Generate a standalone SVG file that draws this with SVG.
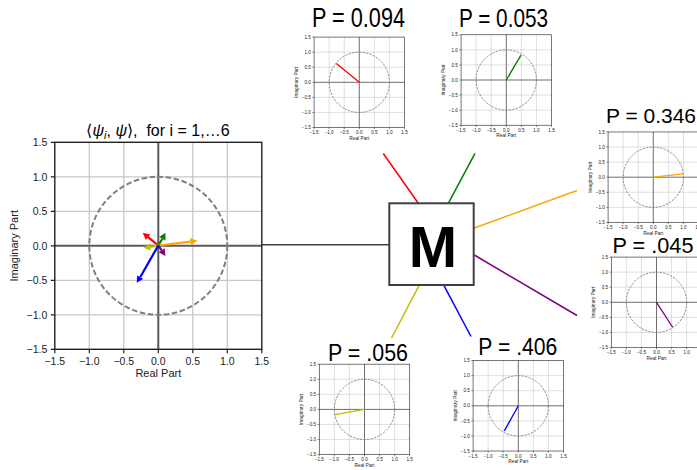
<svg xmlns="http://www.w3.org/2000/svg" xmlns:xlink="http://www.w3.org/1999/xlink" width="697" height="470" viewBox="0 0 697 470">
<style>
.tick{font-family:"Liberation Sans",Arial,sans-serif;font-size:10.5px;fill:#222}
.lab{font-family:"Liberation Sans",Arial,sans-serif;font-size:11px;fill:#222}
.grid{stroke:#c8c8c8;stroke-width:1.3}
.zero{stroke:#5a5a5a;stroke-width:2}
.frame{fill:none;stroke:#222;stroke-width:1.4}
.tk{stroke:#222;stroke-width:1.2}
.circ{fill:none;stroke:#808080;stroke-width:2;stroke-dasharray:5.5 2.6}
.ptitle{font-family:"Liberation Sans",Arial,sans-serif;fill:#000}
.conn{fill:none;stroke-width:1.5}
.vec{stroke-width:3;fill:none}
</style>
<defs>
<g id="axes">
<rect x="-103.5" y="-103.5" width="207" height="207" fill="#fff"/>
<path class="grid" d="M-69,-103.5V103.5M-34.5,-103.5V103.5M34.5,-103.5V103.5M69,-103.5V103.5M-103.5,-69H103.5M-103.5,-34.5H103.5M-103.5,34.5H103.5M-103.5,69H103.5"/>
<path class="zero" d="M0,-103.5V103.5M-103.5,0H103.5"/>
<circle class="circ" cx="0" cy="0" r="69"/>
<rect class="frame" x="-103.5" y="-103.5" width="207" height="207"/>
<path class="tk" d="M-103.5,-103.5h-4M-103.5,-69h-4M-103.5,-34.5h-4M-103.5,0h-4M-103.5,34.5h-4M-103.5,69h-4M-103.5,103.5h-4M-103.5,103.5v4M-69,103.5v4M-34.5,103.5v4M0,103.5v4M34.5,103.5v4M69,103.5v4M103.5,103.5v4"/>
<g class="tick" text-anchor="end">
<text x="-111" y="-99.7">1.5</text>
<text x="-111" y="-65.2">1.0</text>
<text x="-111" y="-30.7">0.5</text>
<text x="-111" y="3.8">0.0</text>
<text x="-111" y="38.3">−0.5</text>
<text x="-111" y="72.8">−1.0</text>
<text x="-111" y="107.3">−1.5</text>
</g>
<g class="tick" text-anchor="middle">
<text x="-103.5" y="118.8">−1.5</text>
<text x="-69" y="118.8">−1.0</text>
<text x="-34.5" y="118.8">−0.5</text>
<text x="0" y="118.8">0.0</text>
<text x="34.5" y="118.8">0.5</text>
<text x="69" y="118.8">1.0</text>
<text x="103.5" y="118.8">1.5</text>
</g>
<text class="lab" x="0" y="131.3" text-anchor="middle">Real Part</text>
<text class="lab" transform="translate(-140.3,0) rotate(-90)" x="0" y="0" text-anchor="middle">Imaginary Part</text>
</g>
</defs>
<rect width="697" height="470" fill="#fff"/>

<g id="connectors">
<line class="conn" stroke="#404040" x1="262" y1="244.7" x2="389" y2="244.7"/>
<line class="conn" stroke="#ff0000" x1="418.3" y1="203.3" x2="383.3" y2="153.5"/>
<line class="conn" stroke="#008000" x1="448.3" y1="203.3" x2="475" y2="153.3"/>
<line class="conn" stroke="#ffa500" x1="473.7" y1="228.3" x2="577" y2="190.5"/>
<line class="conn" stroke="#800080" x1="474.3" y1="255" x2="577" y2="315.5"/>
<line class="conn" stroke="#bfbf00" x1="419" y1="285.7" x2="391.5" y2="338"/>
<line class="conn" stroke="#0000ff" x1="444" y1="285.7" x2="471" y2="336.5"/>
</g>

<g id="main-plot">
<use xlink:href="#axes" href="#axes" transform="translate(158.3,245.8)"/>
<text class="ptitle" x="158" y="136" font-size="16" text-anchor="middle">⟨<tspan font-style="italic">ψ</tspan><tspan font-size="11" font-style="italic" dy="3">i</tspan><tspan dy="-3">, </tspan><tspan font-style="italic">ψ</tspan>⟩,&#160; for i = 1,…6</text>
<g id="arrows">
<g stroke="#ff0000" fill="#ff0000"><line x1="158.3" y1="245.5" x2="148.1" y2="237.2" stroke-width="2.2"/><polygon points="142.7,232.7 150.3,234.5 145.9,239.9" stroke="none"/></g>
<g stroke="#008000" fill="#008000"><line x1="158.3" y1="245.5" x2="162.3" y2="238.8" stroke-width="2.2"/><polygon points="165.5,232.7 165.4,240.5 159.2,237.1" stroke="none"/></g>
<g stroke="#ffa500" fill="#ffa500"><line x1="158.3" y1="245.5" x2="190.4" y2="241.6" stroke-width="2.2"/><polygon points="197.5,240.8 190.9,245.1 189.9,238.1" stroke="none"/></g>
<g stroke="#bfbf00" fill="#bfbf00"><line x1="158.3" y1="245.5" x2="150.25" y2="246.9" stroke-width="2.2"/><polygon points="143.3,247.8 149.8,243.4 150.7,250.4" stroke="none"/></g>
<g stroke="#800080" fill="#800080"><line x1="158.3" y1="245.5" x2="161.7" y2="250.3" stroke-width="2.2"/><polygon points="165.4,256 158.8,252.3 164.6,248.3" stroke="none"/></g>
<g stroke="#0000ff" fill="#0000ff"><line x1="158.3" y1="245.5" x2="140.2" y2="277.2" stroke-width="2.2"/><polygon points="136.7,282.8 137.2,275.5 143.2,279" stroke="none"/></g>
</g>
</g>

<g id="measure">
<rect x="389.3" y="203.3" width="84.4" height="81.7" fill="#fff" stroke="#404040" stroke-width="2"/>
<text x="432.8" y="266.7" font-family="Liberation Sans, Arial, sans-serif" font-weight="bold" font-size="58" text-anchor="middle" fill="#000">M</text>
</g>

<g id="plot-p094">
<text class="ptitle" x="312" y="27" font-size="27" textLength="93" lengthAdjust="spacingAndGlyphs">P = 0.094</text>
<g transform="translate(359.3,82.3) scale(0.437)"><use xlink:href="#axes" href="#axes"/><line class="vec" stroke="#ff0000" x1="0" y1="0" x2="-52.4" y2="-42.8"/></g>
</g>

<g id="plot-p053">
<text class="ptitle" x="459" y="27" font-size="26" textLength="89" lengthAdjust="spacingAndGlyphs">P = 0.053</text>
<g transform="translate(506.3,80) scale(0.437)"><use xlink:href="#axes" href="#axes"/><line class="vec" stroke="#008000" x1="0" y1="0" x2="33.6" y2="-57.1"/></g>
</g>

<g id="plot-p346">
<text class="ptitle" x="606" y="123" font-size="21" textLength="90" lengthAdjust="spacingAndGlyphs">P = 0.346</text>
<g transform="translate(653.3,177.2) scale(0.437)"><use xlink:href="#axes" href="#axes"/><line class="vec" stroke="#ffa500" x1="0" y1="0" x2="68.6" y2="-7.6"/></g>
</g>

<g id="plot-p045">
<text class="ptitle" x="612.5" y="252.7" font-size="22.5" textLength="81" lengthAdjust="spacingAndGlyphs">P = .045</text>
<g transform="translate(656.5,302.3) scale(0.437)"><use xlink:href="#axes" href="#axes"/><line class="vec" stroke="#800080" x1="0" y1="0" x2="37" y2="57.1"/></g>
</g>

<g id="plot-p056">
<text class="ptitle" x="328" y="360.5" font-size="24" textLength="80" lengthAdjust="spacingAndGlyphs">P = .056</text>
<g transform="translate(364.5,409.4) scale(0.437)"><use xlink:href="#axes" href="#axes"/><line class="vec" stroke="#bfbf00" x1="0" y1="0" x2="-67.5" y2="12"/></g>
</g>

<g id="plot-p406">
<text class="ptitle" x="478.3" y="355" font-size="24" textLength="79" lengthAdjust="spacingAndGlyphs">P = .406</text>
<g transform="translate(518.3,405.8) scale(0.437)"><use xlink:href="#axes" href="#axes"/><line class="vec" stroke="#0000ff" x1="0" y1="0" x2="-32" y2="57.5"/></g>
</g>
</svg>
